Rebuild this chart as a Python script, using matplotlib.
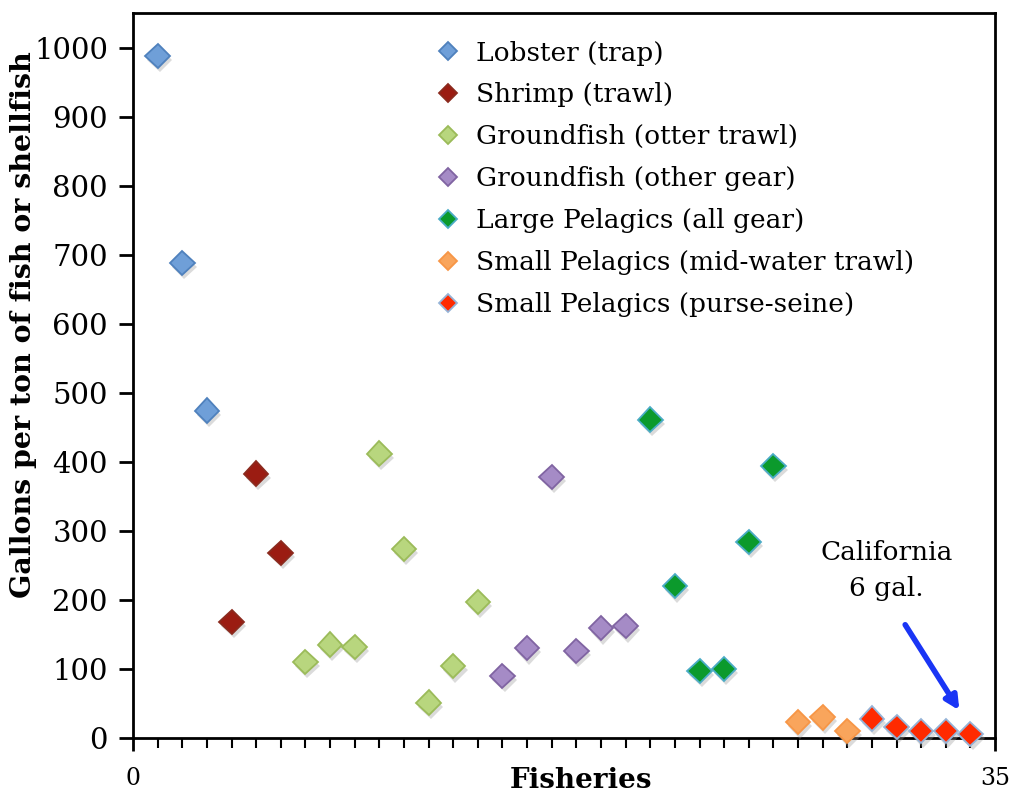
import matplotlib
matplotlib.use("Agg")
import matplotlib.pyplot as plt
import matplotlib.patheffects as pe

plt.rcParams['font.family'] = ['DejaVu Serif']

series_names = [
    "Lobster (trap)",
    "Shrimp (trawl)",
    "Groundfish (otter trawl)",
    "Groundfish (other gear)",
    "Large Pelagics (all gear)",
    "Small Pelagics (mid-water trawl)",
    "Small Pelagics (purse-seine)",
]
lobster_x = [1, 2, 3]
lobster_y = [988, 688, 474]
shrimp_x = [4, 5, 6]
shrimp_y = [168, 383, 268]
otter_x = [7, 8, 9, 10, 11, 12, 13, 14]
otter_y = [110, 135, 132, 412, 274, 51, 104, 197]
other_x = [15, 16, 17, 18, 19, 20]
other_y = [90, 130, 378, 126, 159, 162]
large_x = [21, 22, 23, 24, 25, 26]
large_y = [461, 220, 97, 100, 284, 394]
midwater_x = [27, 28, 29]
midwater_y = [23, 30, 10]
purse_x = [30, 31, 32, 33, 34]
purse_y = [28, 16, 10, 10, 6]

xs = [lobster_x, shrimp_x, otter_x, other_x, large_x, midwater_x, purse_x]
ys = [lobster_y, shrimp_y, otter_y, other_y, large_y, midwater_y, purse_y]
fills = ["#6f9fd8", "#9b1c12", "#b8d67e", "#a58bc6", "#0b9a2c", "#f9a55c", "#ff2a00"]
edges = ["#4f81bd", "#8b2a1e", "#9bbb59", "#8064a2", "#4bacc6", "#f79646", "#95b3d7"]

fig = plt.figure(figsize=(10.09, 7.93), dpi=100)
ax = fig.add_axes([0.1318, 0.0694, 0.8544, 0.9142])

shadow = [pe.SimplePatchShadow(offset=(1.5, -3), shadow_rgbFace="#999999", alpha=0.35), pe.Normal()]
for x, y, name, fc, ec in zip(xs, ys, series_names, fills, edges):
    ax.plot(x, y, linestyle="none", marker="D", markersize=12.5,
            markerfacecolor=fc, markeredgecolor=ec, markeredgewidth=1.3,
            label=name, path_effects=shadow, zorder=3, clip_on=False)

ax.set_xlim(0, 35)
ax.set_ylim(0, 1050)
ax.set_yticks(range(0, 1001, 100))
ax.set_xticks([0, 35])
ax.set_xticks(range(0, 36), minor=True)
for s in ax.spines.values():
    s.set_linewidth(2)
    s.set_color("black")
ax.tick_params(axis="y", which="major", direction="out", length=10, width=2,
               labelsize=21, pad=8)
ax.tick_params(axis="x", which="major", direction="out", length=9, width=2,
               labelsize=17, pad=12)
ax.tick_params(axis="x", which="minor", direction="out", length=7, width=1.5)

ax.set_ylabel("Gallons per ton of fish or shellfish", fontsize=20.5, fontweight="bold")
ax.yaxis.set_label_coords(-0.111, 0.57)
ax.set_xlabel("Fisheries", fontsize=20, fontweight="bold")
ax.xaxis.set_label_coords(0.52, -0.04)

leg = ax.legend(loc="upper left", bbox_to_anchor=(0.350, 0.962), frameon=False,
                fontsize=19, handletextpad=0.55, handlelength=1.0, labelspacing=0.64,
                borderaxespad=0, borderpad=0)
for h in leg.legend_handles:
    h.set_markersize(9)
    h.set_path_effects([])

ax.text(30.6, 242, "California\n6 gal.", ha="center", va="center", fontsize=19,
        linespacing=1.55)
ax.annotate("", xy=(33.55, 40), xytext=(31.35, 164),
            arrowprops=dict(arrowstyle="-|>,head_length=0.8,head_width=0.4",
                            color="#1a35f5", lw=4, shrinkA=0, shrinkB=0))

fig.savefig("out.png", dpi=100)
